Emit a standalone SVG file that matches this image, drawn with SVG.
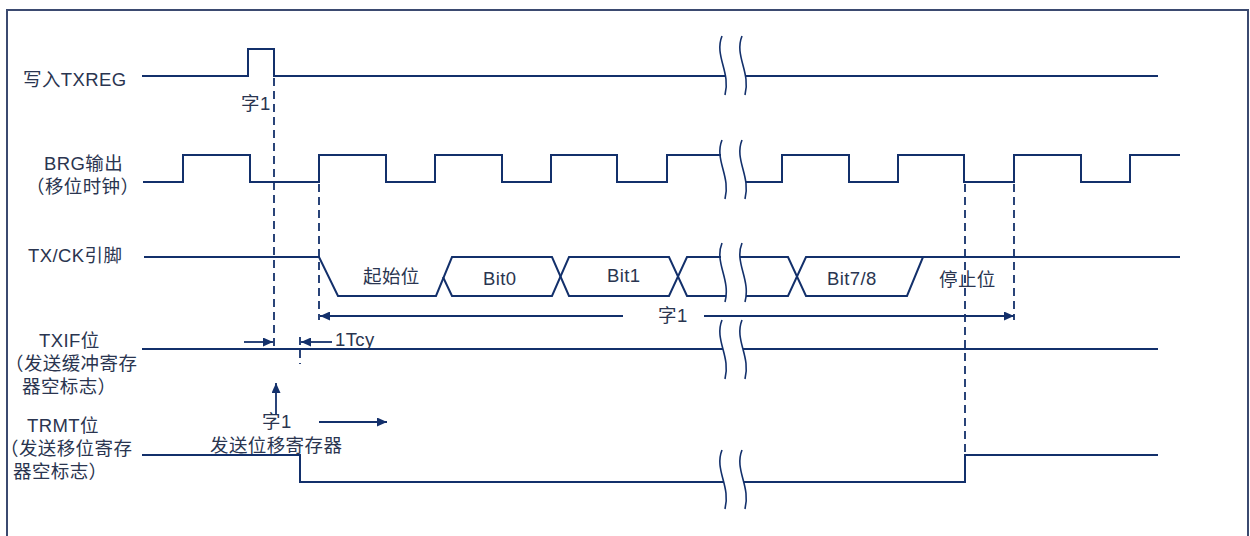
<svg xmlns="http://www.w3.org/2000/svg" width="1250" height="536" viewBox="0 0 1250 536">
<style>
.sig{fill:none;stroke:#13306b;stroke-width:2;stroke-linejoin:miter}
.brk{fill:none;stroke:#13306b;stroke-width:1.6}
.dash{fill:none;stroke:#13306b;stroke-width:1.8;stroke-dasharray:8,5}
.arr{fill:none;stroke:#13306b;stroke-width:1.8}
text{font-family:"Liberation Sans","Noto Sans CJK SC",sans-serif;font-size:18.5px;letter-spacing:0.4px;fill:#2a3550}
</style>
<defs>
<marker id="ah" viewBox="0 0 10 9" refX="10" refY="4.5" markerWidth="10" markerHeight="9" markerUnits="userSpaceOnUse" orient="auto">
<path d="M0,0 L10,4.5 L0,9 z" fill="#13306b"/>
</marker>
<path id="bk" d="M0,0 C-8,20 9,36 3,59"/>
</defs>
<rect x="7" y="10" width="1241" height="540" fill="#fff" stroke="#3b4a70" stroke-width="2"/>

<g id="row-txreg">
<text x="23" y="86">写入TXREG</text>
<path class="sig" d="M142,76 H248 V49 H274 V76 H726 M746,76 H1158"/>
<use href="#bk" class="brk" x="722" y="36"/>
<use href="#bk" class="brk" x="742" y="36"/>
<text x="241" y="110">字1</text>
</g>

<g id="row-brg">
<text x="44" y="170">BRG输出</text>
<text x="26" y="193">（移位时钟）</text>
<path class="sig" d="M143,182 H183 V155 H250 V182 H319 V155 H386 V182 H435 V155 H502 V182 H551 V155 H617 V182 H667 V155 H721 M746,182 H782 V155 H849 V182 H898 V155 H964 V182 H1014 V155 H1081 V182 H1130 V155 H1180"/>
<use href="#bk" class="brk" x="722" y="140"/>
<use href="#bk" class="brk" x="742" y="140"/>
</g>

<g id="row-tx">
<text x="28" y="262">TX/CK引脚</text>
<path class="sig" d="M144,257 H319 L338,296 H436 L452,257 H552 L569,296 H669 L687,257 H721"/>
<path class="sig" d="M443,277 L452,296 H552 L569,257 H669 L687,296 H726"/>
<path class="sig" d="M740,257 H788 L806,296 H907 L923,257 H1180"/>
<path class="sig" d="M746,296 H788 L806,257 H923"/>
<use href="#bk" class="brk" x="722" y="243"/>
<use href="#bk" class="brk" x="742" y="243"/>
<text x="363" y="283">起始位</text>
<text x="483" y="285">Bit0</text>
<text x="607" y="282">Bit1</text>
<text x="827" y="285">Bit7/8</text>
<text x="939" y="286">停止位</text>
</g>

<g id="row-txif">
<text x="39" y="347">TXIF位</text>
<text x="5" y="370">（发送缓冲寄存</text>
<text x="22" y="393">器空标志）</text>
<path class="sig" d="M142,349 H723 M743,349 H1158"/>
<use href="#bk" class="brk" x="722" y="320"/>
<use href="#bk" class="brk" x="742" y="320"/>
<text x="335" y="346">1Tcy</text>
</g>

<g id="row-trmt">
<text x="27" y="432">TRMT位</text>
<text x="0" y="455">（发送移位寄存</text>
<text x="13" y="478">器空标志）</text>
<path class="sig" d="M142,455 H300 V482 H724 M744,482 H965 V455 H1158"/>
<use href="#bk" class="brk" x="722" y="450"/>
<use href="#bk" class="brk" x="742" y="450"/>
<text x="262" y="428">字1</text>
<text x="210" y="452">发送位移寄存器</text>
</g>

<g id="connectors">
<line class="dash" x1="274" y1="78" x2="274" y2="347"/>
<line class="dash" x1="319" y1="184" x2="319" y2="320"/>
<line class="dash" x1="300" y1="337" x2="300" y2="364"/>
<line class="dash" x1="965" y1="184" x2="965" y2="454"/>
<line class="dash" x1="1014" y1="184" x2="1014" y2="320"/>
<line class="arr" x1="623" y1="316" x2="320" y2="316" marker-end="url(#ah)"/>
<line class="arr" x1="704" y1="316" x2="1014" y2="316" marker-end="url(#ah)"/>
<text x="658" y="322">字1</text>
<line class="arr" x1="244" y1="342" x2="273" y2="342" marker-end="url(#ah)"/>
<line class="arr" x1="332" y1="342" x2="301" y2="342" marker-end="url(#ah)"/>
<line class="arr" x1="276" y1="415" x2="276" y2="383" marker-end="url(#ah)"/>
<line class="arr" x1="319" y1="422" x2="387" y2="422" marker-end="url(#ah)"/>
</g>
</svg>
